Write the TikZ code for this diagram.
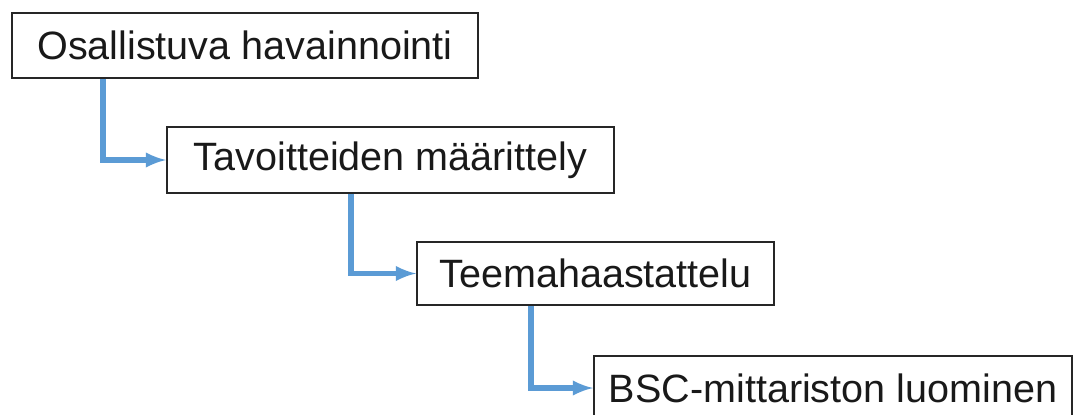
\documentclass[tikz,border=0pt]{standalone}
\usepackage{fontspec}
\setmainfont{Liberation Sans}
\usetikzlibrary{arrows,calc}
\definecolor{linkblue}{RGB}{91,155,213}
\begin{document}
\begin{tikzpicture}
\tikzstyle{rect}=[rectangle, draw=black!85, line width=1.1pt, inner sep=0pt, font=\fontsize{22.5}{27}\selectfont, text=black!90]
\tikzstyle{connect}=[-latex, line width=2.9pt, draw=linkblue]

\useasboundingbox (0,0) rectangle (21.5,-8.28);

  \node[rect, minimum width=9.32cm, minimum height=1.30cm] (osall)  at (4.90,-0.91)  {Osallistuva havainnointi};
  \node[rect, minimum width=8.94cm, minimum height=1.32cm] (tavoit) at (7.81,-3.20)  {Tavoitteiden määrittely};
  \node[rect, minimum width=7.14cm, minimum height=1.26cm] (teema)  at (11.91,-5.47) {Teemahaastattelu};
  \node[rect, minimum width=9.56cm, minimum height=1.28cm] (bsc)    at (16.66,-7.76) {BSC-mittariston luominen};

  % elbow links
  \draw[connect] ([xshift=1.84cm]osall.south west)  |- (tavoit.west);
  \draw[connect] ([xshift=3.70cm]tavoit.south west) |- (teema.west);
  \draw[connect] ([xshift=2.30cm]teema.south west)  |- (bsc.west);

\end{tikzpicture}
\end{document}
